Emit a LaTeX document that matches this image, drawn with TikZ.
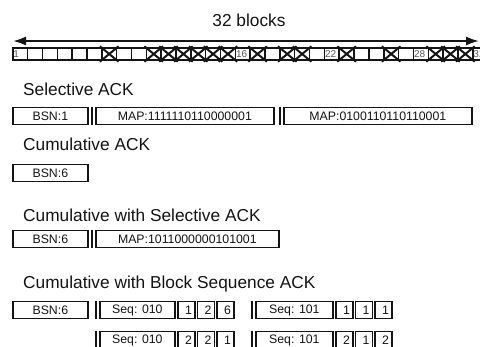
\documentclass[tikz,border=0pt]{standalone}
\usepackage{fontspec}
\setmainfont{Liberation Sans}
\usetikzlibrary{arrows.meta}

\definecolor{ink}{gray}{0.08}
\definecolor{lbl}{gray}{0.35}

\tikzset{
  heading/.style={anchor=west, inner sep=0pt, text=ink,
    font=\fontsize{17.3}{19}\selectfont},
  field/.style={draw=ink, line width=1.7pt, anchor=west, inner sep=0pt,
    minimum height=17pt, minimum width=#1, text=ink,
    font=\fontsize{12.3}{14}\selectfont},
  numfield/.style={field=17pt, text width=11pt, align=right},
  blk/.style={draw=ink, line width=1.5pt, anchor=west, inner sep=0pt,
    minimum width=14.84pt, minimum height=12pt},
  blklabel/.style={anchor=west, inner sep=0pt, text=lbl,
    font=\fontsize{10}{11}\selectfont},
  cross/.style={draw=ink, line width=2pt, shorten <=-1.5pt, shorten >=-1.5pt},
  span/.style={draw=ink, line width=2pt,
    {Latex[length=13pt,width=9pt]}-{Latex[length=13pt,width=9pt]}},
  leftrule/.style={draw=ink, line width=1.7pt}
}

\begin{document}
\begin{tikzpicture}[x=1pt, y=-1pt]
  \useasboundingbox (0,0) rectangle (480,347);
  \fill[white] (0,0) rectangle (480,347);
  \clip (0,0) rectangle (480,347);

  % window of 32 blocks
  \node[heading, anchor=center] (title) at (249,20) {32 blocks};
  \coordinate (spanL) at (13,41);
  \coordinate (spanR) at (479,41);
  \draw[span] (spanL) -- (spanR);

  \foreach \i in {1,...,32} {
    \node[blk] (b\i) at ({12+(\i-1)*14.84},54) {};
  }
  \foreach \i in {1,16,22,28,32} {
    \node[blklabel] (n\i) at ([xshift=1.2pt]b\i.west) {\i};
  }
  % lost blocks
  \foreach \i in {7,10,11,12,13,14,15,17,19,20,23,26,29,30,31} {
    \draw[cross] (b\i.north west) -- (b\i.south east);
    \draw[cross] (b\i.south west) -- (b\i.north east);
  }

  % selective ACK
  \node[heading] (hsel) at (23,89) {Selective ACK};
  \node[field=75pt] (bsnA) at (12,116) {BSN:1};
  \node[field=178pt] (mapA) at (95,116) {MAP:1111110110000001};
  \node[field=188pt] (mapB) at (283,116) {MAP:0100110110110001};

  % cumulative ACK
  \node[heading] (hcum) at (23,144) {Cumulative ACK};
  \node[field=75pt] (bsnB) at (12,173) {BSN:6};

  % cumulative with selective ACK
  \node[heading] (hcs) at (23,215) {Cumulative with Selective ACK};
  \node[field=75pt] (bsnC) at (12,239) {BSN:6};
  \node[field=183pt] (mapC) at (95,239) {MAP:1011000000101001};

  % cumulative with block sequence ACK
  \node[heading] (hbs) at (23,284) {Cumulative with Block Sequence ACK};
  \node[field=75pt] (bsnD) at (12,310) {BSN:6};

  \node[field=75pt] (seqA) at (99,310) {Seq: 010};
  \node[numfield] (a1) at (177,310) {1};
  \node[numfield] (a2) at (196.5,310) {2};
  \node[numfield] (a3) at (216,310) {6};
  \node[field=77pt] (seqB) at (255,310) {Seq: 101};
  \node[numfield] (b1x) at (335,310) {1};
  \node[numfield] (b2x) at (354.5,310) {1};
  \node[numfield] (b3x) at (374,310) {1};

  \node[field=75pt] (seqC) at (99,340) {Seq: 010};
  \node[numfield] (c1) at (177,340) {2};
  \node[numfield] (c2) at (196.5,340) {2};
  \node[numfield] (c3) at (216,340) {1};
  \node[field=77pt] (seqD) at (255,340) {Seq: 101};
  \node[numfield] (d1) at (335,340) {2};
  \node[numfield] (d2) at (354.5,340) {1};
  \node[numfield] (d3) at (374,340) {2};

  % doubled left edge on the wide fields
  \foreach \n in {mapA,mapB,mapC,seqA,seqB,seqC,seqD} {
    \draw[leftrule] ([xshift=-2.8pt]\n.north west) -- ([xshift=-2.8pt]\n.south west);
  }
\end{tikzpicture}
\end{document}
